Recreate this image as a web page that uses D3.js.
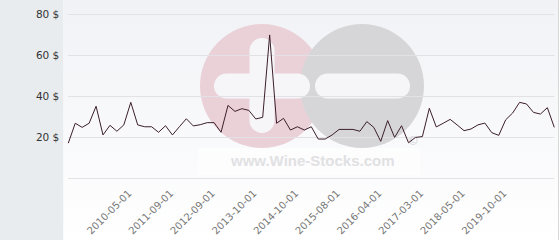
<!DOCTYPE html>
<html>
<head>
<meta charset="utf-8">
<script src="https://cdn.jsdelivr.net/npm/d3@7"></script>
<style>
  body { margin: 0; background: #fff; }
  svg { display: block; }
</style>
</head>
<body>
<svg id="chart"></svg>
<script>
// prices, one point per listing (dates only known where labelled)
let prices = [17, 26.7, 24.7, 26.7, 35, 21, 25.7, 22.8, 25.9, 36.9,
    25.9, 25, 25, 22.3, 25.5, 21, 25, 28.9, 25.4, 26,
    27, 27, 22.3, 35.4, 32.5, 33.8, 33, 28.8, 29.6, 69.8,
    26.7, 29.1, 23.4, 25, 23.4, 25, 19, 19, 21, 23.7,
    23.7, 23.7, 22.8, 27.5, 24.7, 17.9, 28, 19.8, 25.5, 17.2,
    19.8, 20.2, 34, 24.9, 26.7, 28.6, 25.9, 23.1, 23.9, 25.9,
    26.8, 22.1, 20.8, 28.4, 31.7, 36.9, 36.1, 32, 31.2, 34.3, 24.7];

let tickIndex = [9, 15, 21, 27, 33, 39, 45, 51, 57, 63];
let tickLabels = ["2010-05-01", "2011-09-01", "2012-09-01", "2013-10-01", "2014-10-01",
    "2015-08-01", "2016-04-01", "2017-03-01", "2018-05-01", "2019-10-01"];

let gridValues = [0, 20, 40, 60, 80];
let yLabelValues = [20, 40, 60, 80];

var width = 560;
var height = 240;
let svg = d3.select('#chart').attr("width", width).attr("height", height);

let plot = { left: 68.3, right: 554.3, top: 14, bottom: 178 };

// backgrounds
let defs = svg.append("defs");
let grad = defs.append("linearGradient").attr("id", "bg").attr("x1", 0).attr("y1", 0).attr("x2", 0).attr("y2", 1);
grad.append("stop").attr("offset", "0%").attr("stop-color", "#f1f2f6");
grad.append("stop").attr("offset", "100%").attr("stop-color", "#ffffff");

svg.append("rect").attr("x", 0).attr("y", 0).attr("width", 63.5).attr("height", height).attr("fill", "#e8ecef");
svg.append("rect").attr("x", 63.5).attr("y", 0).attr("width", 495).attr("height", height).attr("fill", "url(#bg)");
svg.append("line").attr("x1", 558.5).attr("x2", 558.5).attr("y1", 0).attr("y2", height)
    .attr("stroke", "#d8d8d8");

// watermark logo
let wm = svg.append("g");
wm.append("circle").attr("cx", 262).attr("cy", 86).attr("r", 62).attr("fill", "#ead1d8");
wm.append("circle").attr("cx", 362).attr("cy", 86).attr("r", 62).attr("fill", "#d6d6d8");
wm.append("rect").attr("x", 249.5).attr("y", 38).attr("width", 25).attr("height", 95).attr("rx", 12.5).attr("fill", "#f6f6f9");
wm.append("rect").attr("x", 214).attr("y", 73.5).attr("width", 96).attr("height", 25).attr("rx", 12.5).attr("fill", "#f6f6f9");
wm.append("rect").attr("x", 315).attr("y", 73.5).attr("width", 95).attr("height", 25).attr("rx", 12.5).attr("fill", "#f6f6f9");
wm.append("rect").attr("x", 198).attr("y", 148).attr("width", 222).attr("height", 27).attr("fill", "#ffffff").attr("opacity", 0.5);
wm.append("text").attr("x", 231).attr("y", 166)
    .attr("font-family", "'Liberation Sans', Arial, sans-serif")
    .attr("font-weight", "bold").attr("font-size", 15)
    .attr("fill", "#e1e1e3")
    .text("www.Wine-Stocks.com");
wm.append("text").attr("x", 413).attr("y", 145).attr("text-anchor", "middle")
    .attr("font-family", "'DejaVu Sans', sans-serif").attr("font-size", 12)
    .attr("fill", "#cfcfd2").text("©");

let x = d3.scaleLinear()
    .domain([0, prices.length - 1])
    .range([plot.left, plot.right]);

let y = d3.scaleLinear()
    .domain([0, 80])
    .range([plot.bottom, plot.top]);

// gridlines
svg.append("g")
    .attr("transform", "translate(" + plot.left + ",0)")
    .call(d3.axisLeft(y).tickValues(gridValues).tickSize(-(plot.right - plot.left)).tickFormat(""))
    .call(g => g.select(".domain").remove())
    .selectAll("line")
    .attr("stroke", "#e2e2e6")
    .attr("stroke-width", 1);

// y labels
svg.append("g")
    .attr("transform", "translate(" + plot.left + ",0)")
    .call(d3.axisLeft(y).tickValues(yLabelValues).tickSize(0).tickPadding(9).tickFormat(d => d + " $"))
    .call(g => g.select(".domain").remove())
    .selectAll("text")
    .attr("font-family", "'DejaVu Sans', Verdana, sans-serif")
    .attr("font-size", 10.5)
    .attr("fill", "#333");

// x labels, rotated
svg.append("g")
    .attr("transform", "translate(0," + plot.bottom + ")")
    .call(d3.axisBottom(x).tickValues(tickIndex).tickSize(0).tickFormat((d, i) => tickLabels[i]))
    .call(g => g.select(".domain").remove())
    .selectAll("text")
    .attr("font-family", "'DejaVu Sans', Verdana, sans-serif")
    .attr("font-size", 10)
    .attr("fill", "#777")
    .attr("text-anchor", "end")
    .attr("dy", null)
    .attr("y", 0)
    .attr("transform", "translate(1,16) rotate(-45)");

// price line
let line = d3.line()
    .x(function (d, i) { return x(i); })
    .y(function (d) { return y(d); });

svg.append("path")
    .datum(prices)
    .attr("fill", "none")
    .attr("stroke", "#3b1e2a")
    .attr("stroke-width", 1)
    .attr("stroke-linejoin", "miter")
    .attr("d", line);
</script>
</body>
</html>
